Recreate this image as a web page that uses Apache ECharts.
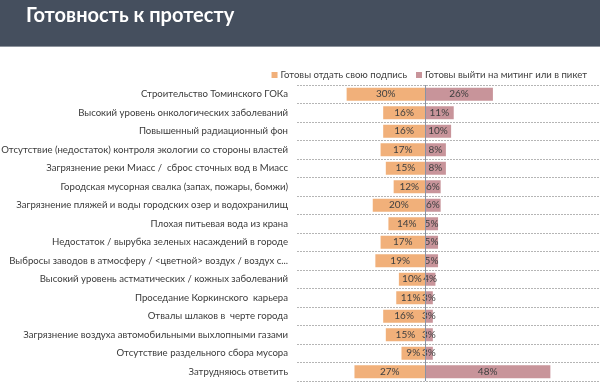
<!DOCTYPE html>
<html><head><meta charset="utf-8">
<script src="https://cdn.jsdelivr.net/npm/echarts@6/dist/echarts.min.js"></script>
<style>html,body{margin:0;padding:0;background:#fff}#c{width:600px;height:382px}</style>
</head><body><div id="c"></div>
<script>
const categories = [
  'Строительство Томинского ГОКа',
  'Высокий уровень онкологических заболеваний',
  'Повышенный радиационный фон',
  'Отсутствие (недостаток) контроля экологии со стороны властей',
  'Загрязнение реки Миасс /  сброс сточных вод в Миасс',
  'Городская мусорная свалка (запах, пожары, бомжи)',
  'Загрязнение пляжей и воды городских озер и водохранилищ',
  'Плохая питьевая вода из крана',
  'Недостаток / вырубка зеленых насаждений в городе',
  'Выбросы заводов в атмосферу / <цветной> воздух / воздух с...',
  'Высокий уровень астматических / кожных заболеваний',
  'Проседание Коркинского  карьера',
  'Отвалы шлаков в  черте города',
  'Загрязнение воздуха автомобильными выхлопными газами',
  'Отсутствие раздельного сбора мусора',
  'Затрудняюсь ответить'
];
const signValues = [30, 16, 16, 17, 15, 12, 20, 14, 17, 19, 10, 11, 16, 15, 9, 27];
const rallyValues = [26, 11, 10, 8, 8, 6, 6, 5, 5, 5, 4, 3, 3, 3, 3, 48];
const seriesNames = ['Готовы отдать свою подпись', 'Готовы выйти на митинг или в пикет'];
const titleText = 'Готовность к протесту';

const chart = echarts.init(document.getElementById('c'), null, {renderer: 'canvas'});
const FONT = 'Lato';
chart.setOption({
  animation: false,
  graphic: [
    {type: 'rect', shape: {x: 0, y: 0, width: 600, height: 46}, style: {fill: '#454f5e'}, z: 0},
    {type: 'rect', shape: {x: 0, y: 46, width: 600, height: 1}, style: {fill: '#8d939c'}, z: 0},
    {type: 'text', left: 26, top: 6, style: {text: titleText, fill: '#ffffff', font: 'bold 20px Lato'}, z: 1}
  ],
  legend: {
    right: 8, top: 65, itemWidth: 6, itemHeight: 6, itemGap: 9,
    icon: 'rect',
    textStyle: {fontFamily: FONT, fontSize: 9.6, color: '#404040', padding: [0, 0, 0, -2]},
    data: seriesNames
  },
  grid: {left: 297, right: 0, top: 85, bottom: 1, containLabel: false, outerBoundsMode: 'none'},
  xAxis: {type: 'value', min: -49, max: 67, show: false, splitLine: {show: false}},
  yAxis: {
    type: 'category', data: categories, inverse: true,
    axisLine: {show: false}, axisTick: {show: false},
    axisLabel: {fontFamily: FONT, fontSize: 9.6, color: '#3a3a3a', margin: 9},
    splitLine: {show: true, lineStyle: {type: [2, 1], color: '#b5b5b5', width: 1}}
  },
  series: [
    {
      name: seriesNames[0], type: 'bar', stack: 'a', barWidth: 13,
      data: signValues.map(v => -v),
      itemStyle: {color: '#f1b07a'},
      label: {show: true, position: 'inside', overflow: 'none', formatter: p => Math.abs(p.value) + '%',
        fontFamily: FONT, fontSize: 10, color: '#404040'},
      markLine: {silent: true, symbol: 'none', label: {show: false},
        lineStyle: {type: 'solid', color: '#8a93a3', width: 1},
        data: [{xAxis: 0}]}
    },
    {
      name: seriesNames[1], type: 'bar', stack: 'a', barWidth: 13,
      data: rallyValues,
      itemStyle: {color: '#c8949a'},
      label: {show: true, position: 'inside', overflow: 'none', formatter: p => p.value + '%',
        fontFamily: FONT, fontSize: 10, color: '#404040'}
    }
  ]
});
</script></body></html>
